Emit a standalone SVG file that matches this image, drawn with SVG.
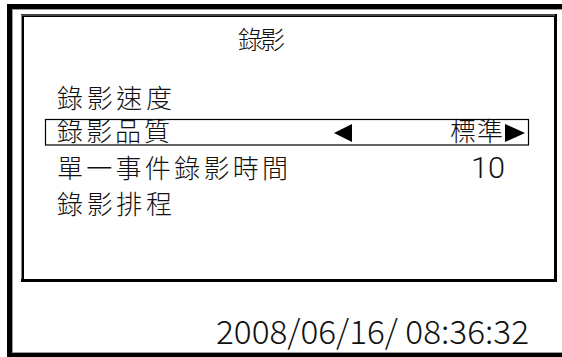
<svg xmlns="http://www.w3.org/2000/svg" width="562" height="357" viewBox="0 0 562 357">
<style>
.t{font-family:"Noto Sans CJK TC","Noto Sans CJK JP",sans-serif;fill:#111;font-weight:300;}
.item{font-size:26px;}
.num{font-family:Roboto,"Noto Sans",sans-serif;fill:#111;font-weight:300;}
</style>
<rect width="562" height="357" fill="#fff"/>
<g id="outer-frame">
<rect x="9.5" y="6.5" width="560" height="348" fill="none" stroke="#000" stroke-width="5"/>
<rect x="12.5" y="9.5" width="560" height="343" fill="none" stroke="#999" stroke-width="1"/>
</g>
<g id="menu-panel">
<rect x="22.5" y="15.5" width="533" height="265" fill="none" stroke="#000" stroke-width="3"/>
<path d="M21.5 279 V15 H555" fill="none" stroke="#888" stroke-width="1"/>
</g>
<g id="title"><text class="t" x="238" y="49" font-size="25" textLength="47">錄影</text></g>
<g id="item-speed"><text class="t item" x="57" y="108" textLength="115">錄影速度</text></g>
<g id="item-quality">
<rect x="45.5" y="119.5" width="483" height="25.5" fill="none" stroke="#000" stroke-width="1.2"/>
<text class="t item" x="57" y="141" textLength="113">錄影品質</text>
<polygon points="334,133 352,124 352,142" fill="#000"/>
<text class="t item" x="450" y="141" textLength="53">標準</text>
<polygon points="505,124 525,133 505,142" fill="#000"/>
</g>
<g id="item-event-time">
<text class="t item" x="57" y="178" textLength="231">單一事件錄影時間</text>
<text class="num" x="471" y="178" font-size="30" textLength="34" lengthAdjust="spacingAndGlyphs">10</text>
</g>
<g id="item-schedule"><text class="t item" x="57" y="214" textLength="115">錄影排程</text></g>
<g id="datetime"><text class="t" x="216" y="344" font-size="33" textLength="313" lengthAdjust="spacingAndGlyphs">2008/06/16/ 08:36:32</text></g>
</svg>
